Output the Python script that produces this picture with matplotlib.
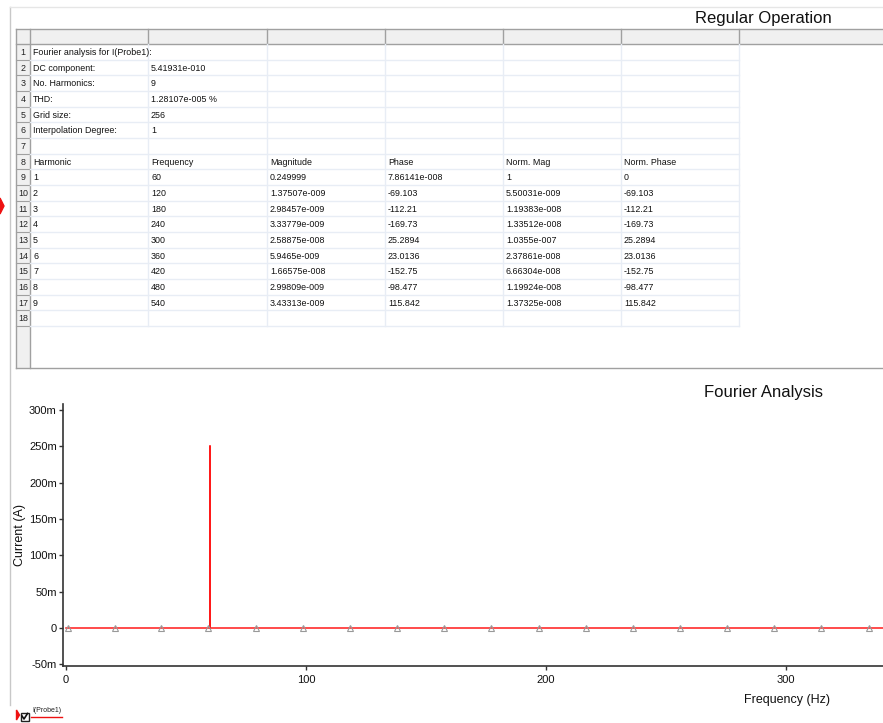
import matplotlib.pyplot as plt
from matplotlib.patches import Rectangle, Polygon

plt.rcParams['font.family'] = ['Liberation Sans', 'DejaVu Sans']

# ---- table data (as shown in the spreadsheet) ----
info_labels = ["Fourier analysis for I(Probe1):", "DC component:", "No. Harmonics:",
               "THD:", "Grid size:", "Interpolation Degree:"]
info_values = ["", "5.41931e-010", "9", "1.28107e-005 %", "256", "1"]
headers = ["Harmonic", "Frequency", "Magnitude", "Phase", "Norm. Mag", "Norm. Phase"]
harmonic = ["1", "2", "3", "4", "5", "6", "7", "8", "9"]
frequency = ["60", "120", "180", "240", "300", "360", "420", "480", "540"]
magnitude = ["0.249999", "1.37507e-009", "2.98457e-009", "3.33779e-009", "2.58875e-008",
             "5.9465e-009", "1.66575e-008", "2.99809e-009", "3.43313e-009"]
phase = ["7.86141e-008", "-69.103", "-112.21", "-169.73", "25.2894",
         "23.0136", "-152.75", "-98.477", "115.842"]
norm_mag = ["1", "5.50031e-009", "1.19383e-008", "1.33512e-008", "1.0355e-007",
            "2.37861e-008", "6.66304e-008", "1.19924e-008", "1.37325e-008"]
norm_phase = ["0", "-69.103", "-112.21", "-169.73", "25.2894",
              "23.0136", "-152.75", "-98.477", "115.842"]

# ---- plot data ----
dc = 5.41931e-10
freqs = [60, 120, 180, 240, 300, 360, 420, 480, 540]
mags = [0.249999, 1.37507e-9, 2.98457e-9, 3.33779e-9, 2.58875e-8,
        5.9465e-9, 1.66575e-8, 2.99809e-9, 3.43313e-9]
marker_freqs = [0.8, 20.6, 39.8, 59.4, 79.2, 98.8, 118.4, 138.0, 157.5,
                177.1, 197.0, 216.6, 236.2, 255.8, 275.4, 295.0, 314.6, 334.6]

W, H = 883, 723
fig = plt.figure(figsize=(W / 100, H / 100), dpi=100)
fig.patch.set_facecolor("white")

# overlay in pixel coordinates for the spreadsheet part
bg = fig.add_axes([0, 0, 1, 1])
bg.set_xlim(0, W)
bg.set_ylim(H, 0)
bg.axis("off")

# window border
bg.plot([10, 10], [7, 705], color="#c8c8c8", lw=1)
bg.plot([10, W], [7, 7], color="#e6e6e6", lw=1)

bg.text(763, 18, "Regular Operation", fontsize=12, ha="center", va="center", color="#111111")

col_edges = [30, 148, 267, 385, 503, 621, 739]
row_top, row_h = 44, 15.67
n_rows = 18
hdr_top = 29

# header row and row header column
bg.add_patch(Rectangle((16, hdr_top), W - 16, row_top - hdr_top, facecolor="#f0f0f0",
                       edgecolor="none"))
bg.add_patch(Rectangle((16, row_top), 14, 368 - row_top, facecolor="#f0f0f0", edgecolor="none"))
bg.plot([16, W], [hdr_top, hdr_top], color="#a0a0a0", lw=1)
bg.plot([16, W], [row_top, row_top], color="#a0a0a0", lw=1)
bg.plot([16, 16], [hdr_top, 368], color="#a0a0a0", lw=1)
bg.plot([30, 30], [hdr_top, 368], color="#a0a0a0", lw=1)
bg.plot([16, W], [368, 368], color="#a0a0a0", lw=1)
for x in col_edges[1:]:
    bg.plot([x, x], [hdr_top, row_top], color="#a0a0a0", lw=1)
    bg.plot([x, x], [row_top, row_top + n_rows * row_h], color="#e8edf5", lw=1)
for i in range(n_rows):
    yb = row_top + (i + 1) * row_h
    bg.plot([16, 30], [yb, yb], color="#a0a0a0", lw=0.8)
    bg.plot([30, col_edges[-1]], [yb, yb], color="#e8edf5", lw=1)
    bg.text(23, yb - row_h / 2 + 0.5, str(i + 1), fontsize=6.4, ha="center", va="center",
            color="#222222")

def cell(r, c, s):
    bg.text(col_edges[c] + 3, row_top + (r + 0.5) * row_h + 0.5, s, fontsize=6.4,
            ha="left", va="center", color="#111111")

for i, (lab, val) in enumerate(zip(info_labels, info_values)):
    cell(i, 0, lab)
    cell(i, 1, val)
for c, h in enumerate(headers):
    cell(7, c, h)
cols = [harmonic, frequency, magnitude, phase, norm_mag, norm_phase]
for c, col in enumerate(cols):
    for r, s in enumerate(col):
        cell(8 + r, c, s)

# red row marker on the left edge
bg.add_patch(Polygon([[0, 198], [4, 206], [0, 214]], closed=True, color="#ee1111"))

# ---- Fourier plot ----
bg.text(763, 392, "Fourier Analysis", fontsize=12, ha="center", va="center", color="#111111")

ax = fig.add_axes([63 / W, 1 - 666 / H, 1 - 63 / W, (666 - 404) / H])
xs, ys = [0], [dc]
for f, m in zip(freqs, mags):
    xs += [f, f, f]
    ys += [0, m, 0]
ax.plot(xs, ys, color="#ff1a1a", lw=1.1, zorder=2)
ax.plot(marker_freqs, [0] * len(marker_freqs), linestyle="none", marker="^",
        markersize=4.5, markerfacecolor="none", markeredgecolor="#999999", mew=0.8, zorder=3)

ax.set_xlim(-1.2, 340.4)
ax.set_ylim(-0.0523, 0.308)
ax.set_yticks([-0.05, 0, 0.05, 0.1, 0.15, 0.2, 0.25, 0.3])
ax.set_yticklabels(["-50m", "0", "50m", "100m", "150m", "200m", "250m", "300m"])
ax.set_xticks([0, 100, 200, 300])
ax.tick_params(labelsize=8, length=3, width=1, colors="#333333", labelcolor="#111111")
ax.tick_params(axis="y", pad=1.5)
for s in ["top", "right"]:
    ax.spines[s].set_visible(False)
for s in ["left", "bottom"]:
    ax.spines[s].set_color("#333333")
    ax.spines[s].set_linewidth(1.2)
ax.set_facecolor("none")
ax.set_ylabel("Current (A)", fontsize=9, color="#111111")
ax.yaxis.set_label_coords((26 - 63) / (W - 63), 0.5)
ax.set_xlabel("Frequency (Hz)", fontsize=9, color="#111111")
ax.xaxis.set_label_coords((787 - 63) / (W - 63), -0.105)

# legend at bottom-left
bg.add_patch(Polygon([[16.5, 710], [19.5, 715], [16.5, 720]], closed=True, color="#ee1111"))
bg.add_patch(Rectangle((20.5, 712.5), 8, 8, facecolor="white", edgecolor="#222222", lw=1))
bg.plot([22, 24, 27.5], [716, 719, 713.5], color="#111111", lw=1.2)
bg.text(32, 710.5, "I(Probe1)", fontsize=5, ha="left", va="center", color="#222222")
bg.plot([31, 62], [716.8, 716.8], color="#ee1111", lw=1)

fig.savefig("out.png", dpi=100)
